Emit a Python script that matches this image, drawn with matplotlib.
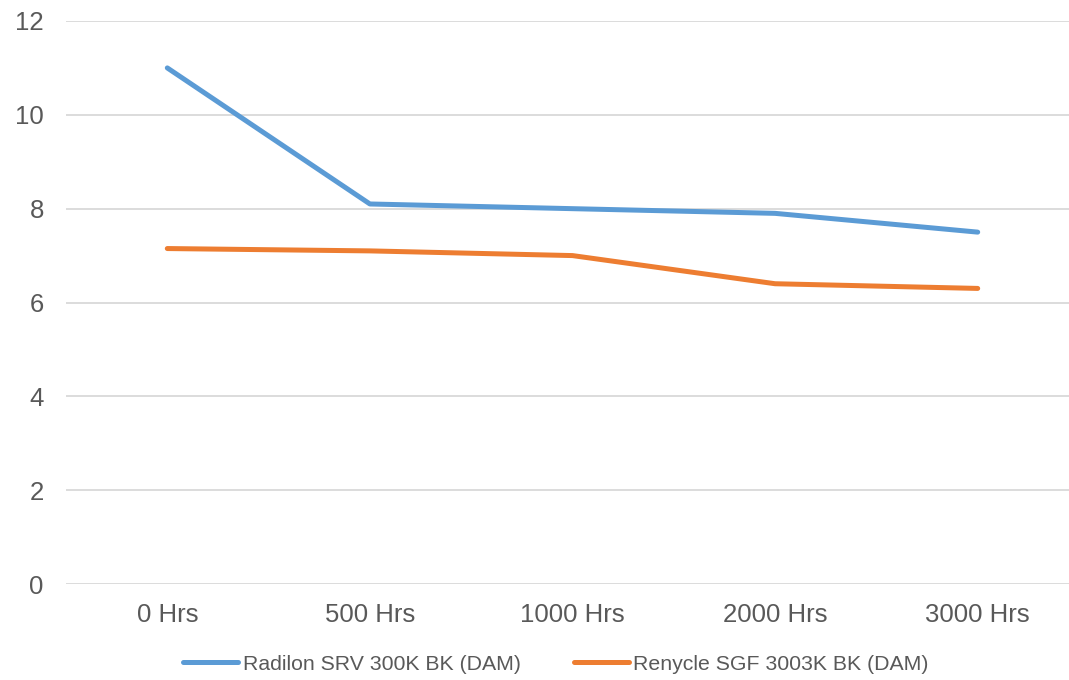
import matplotlib
matplotlib.use('Agg')
import matplotlib.pyplot as plt

plt.rcParams['font.family'] = ['Liberation Sans', 'DejaVu Sans']

hours = ['0 Hrs', '500 Hrs', '1000 Hrs', '2000 Hrs', '3000 Hrs']
radilon = [11.0, 8.1, 8.0, 7.9, 7.5]
renycle = [7.15, 7.1, 7.0, 6.4, 6.3]
names = ['Radilon SRV 300K BK (DAM)', 'Renycle SGF 3003K BK (DAM)']

fig = plt.figure(figsize=(10.69, 6.8), dpi=100)
ax = fig.add_axes([66/1069, 1 - 584/680, 1013/1069, 563/680])

x = range(len(hours))
ax.plot(x, radilon, color='#5b9bd5', lw=3.6, solid_capstyle='round', label=names[0], zorder=3)
ax.plot(x, renycle, color='#ed7d31', lw=3.6, solid_capstyle='round', label=names[1], zorder=3)

ax.set_xlim(-0.5, 4.5)
ax.set_ylim(0, 12)
ax.set_yticks(range(0, 13, 2))
ax.set_xticks(list(x))
ax.set_xticklabels(hours)
ax.grid(axis='y', color='#d9d9d9', lw=1.3)
ax.set_axisbelow(True)
for s in ax.spines.values():
    s.set_visible(False)
ax.tick_params(length=0, labelsize=18.5, labelcolor='#595959')
ax.tick_params(axis='x', pad=14)
ax.tick_params(axis='y', pad=16)

fig.legend(loc='center', bbox_to_anchor=(0.52, 1 - 664/680), ncol=2, frameon=False,
           fontsize=15.3, labelcolor='#595959', handlelength=2.6, handletextpad=0.2,
           columnspacing=2.5)

fig.savefig('out.png', dpi=100)
